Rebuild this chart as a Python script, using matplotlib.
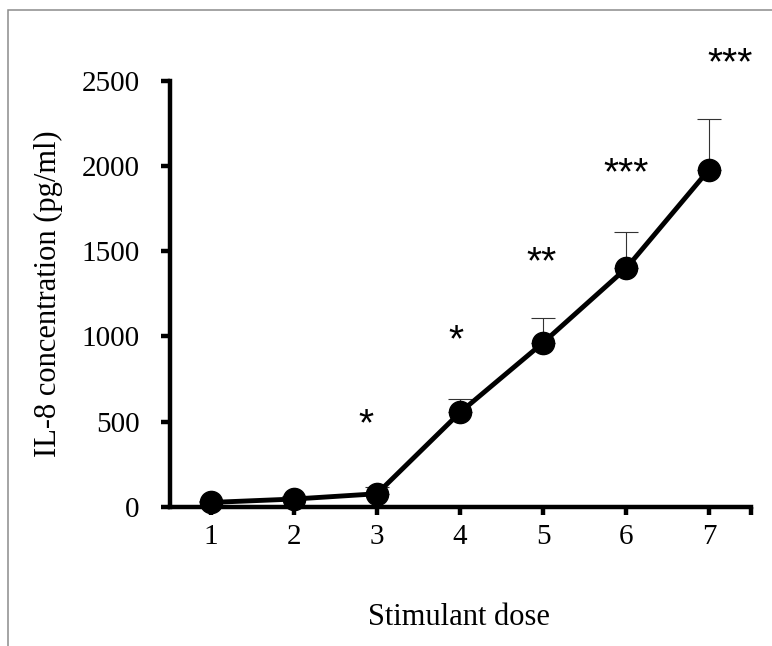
import matplotlib.pyplot as plt
from matplotlib.patches import Rectangle

# values
doses = [1, 2, 3, 4, 5, 6, 7]
il8_mean = [25, 45, 76, 553, 962, 1398, 1978]
il8_err = [10, 15, 40, 80, 145, 212, 295]
signif = ['', '', '*', '*', '**', '***', '***']
signif_x = [1, 2, 2.87, 3.95, 4.98, 6.0, 7.26]
signif_y = [0, 0, 515, 1008, 1465, 1988, 2637]

plt.rcParams['font.family'] = ['Liberation Serif', 'DejaVu Serif']

fig = plt.figure(figsize=(7.72, 6.46), dpi=100)
ax = fig.add_axes([169.5 / 772, (646 - 506.7) / 646, 581 / 772, 426 / 646])

# upper error bars only
ax.errorbar(doses, il8_mean, yerr=[[0] * len(il8_err), il8_err], fmt='none',
            ecolor='#333333', elinewidth=0.8, capsize=8.5, capthick=0.8, zorder=2)
ax.plot(doses, il8_mean, color='black', linewidth=3.5, marker='o',
        markersize=16, zorder=3, clip_on=False)

# significance stars (y = centre of the star)
for x, y, s in zip(signif_x, signif_y, signif):
    if s:
        ax.annotate(s, (x, y), xytext=(0, -12), textcoords='offset points',
                    ha='center', va='baseline', fontsize=28,
                    family='Liberation Sans', annotation_clip=False)

ax.set_xlim(0.5, 7.5)
ax.set_ylim(0, 2500)
ax.set_xticks(doses + [7.5])
ax.set_xticklabels([str(d) for d in doses] + [''])
ax.set_yticks(range(0, 2501, 500))

for side in ['top', 'right']:
    ax.spines[side].set_visible(False)
for side in ['left', 'bottom']:
    ax.spines[side].set_linewidth(3.2)

ax.tick_params(axis='y', direction='out', length=6.5, width=3.2, pad=15, labelsize=21)
ax.tick_params(axis='x', direction='out', length=5.5, width=3.2, pad=7, labelsize=21)

ax.text(0.498, -0.2777, 'Stimulant dose', transform=ax.transAxes,
        ha='center', va='baseline', fontsize=22)
ax.text(-0.1833, 0.4993, 'IL-8 concentration (pg/ml)', transform=ax.transAxes,
        rotation=90, ha='right', va='center', fontsize=22)

# grey frame around the chart area (cut off at right and bottom)
frame = Rectangle((8 / 772, -0.1), 2, (646 - 10) / 646 + 0.1, transform=fig.transFigure,
                  fill=False, edgecolor='#8c8c8c', linewidth=1.1)
fig.add_artist(frame)

fig.savefig('out.png', dpi=100)
